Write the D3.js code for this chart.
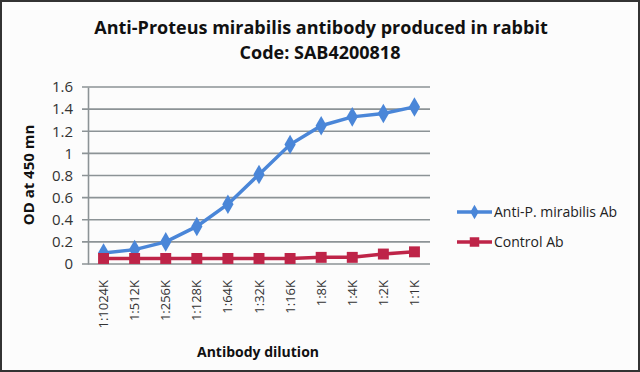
<!DOCTYPE html>
<html>
<head>
<meta charset="utf-8">
<script src="https://cdn.jsdelivr.net/npm/d3@7"></script>
<style>
  html, body { margin: 0; padding: 0; background: #fff; }
  svg { display: block; }
  text { font-family: "Open Sans", "DejaVu Sans", sans-serif; }
</style>
</head>
<body>
<svg id="chart" width="640" height="372"></svg>
<script>
const dilutions = ['1:1024K', '1:512K', '1:256K', '1:128K', '1:64K', '1:32K', '1:16K', '1:8K', '1:4K', '1:2K', '1:1K'];
const antiValues = [0.10, 0.13, 0.20, 0.34, 0.54, 0.81, 1.08, 1.25, 1.33, 1.36, 1.42];
const controlValues = [0.05, 0.05, 0.05, 0.05, 0.05, 0.05, 0.05, 0.06, 0.06, 0.09, 0.11];
const yTicks = [0, 0.2, 0.4, 0.6, 0.8, 1, 1.2, 1.4, 1.6];

const seriesList = [
    { name: 'Anti-P. mirabilis Ab', values: antiValues, color: '#4a86d8', symbol: d3.symbolDiamond },
    { name: 'Control Ab', values: controlValues, color: '#be2448', symbol: d3.symbolSquare }
];

const svg = d3.select('#chart');
const width = +svg.attr('width');
const height = +svg.attr('height');

// background + frame
svg.append('rect')
    .attr('x', 1).attr('y', 1)
    .attr('width', width - 2).attr('height', height - 2)
    .attr('fill', '#fcfcfc')
    .attr('stroke', '#333').attr('stroke-width', 2);

const margin = { top: 87, right: 210, bottom: 108, left: 88 };
const innerW = width - margin.left - margin.right;
const innerH = height - margin.top - margin.bottom;

const g = svg.append('g').attr('transform', `translate(${margin.left},${margin.top})`);

const xScale = d3.scaleBand().domain(dilutions).range([0, innerW]);
const yScale = d3.scaleLinear().domain([0, 1.6]).range([innerH, 0]);

// gridlines
g.append('g')
    .selectAll('line')
    .data(yTicks)
    .join('line')
    .attr('x1', -6).attr('x2', innerW)
    .attr('y1', d => yScale(d)).attr('y2', d => yScale(d))
    .attr('stroke', '#8c9396').attr('stroke-width', 1.6);

// y axis
const yAxis = g.append('g')
    .call(d3.axisLeft(yScale).tickValues(yTicks).tickSize(0).tickPadding(15).tickFormat(d3.format('~g')));
yAxis.select('.domain').attr('stroke', '#8c9396').attr('stroke-width', 1.6);
yAxis.selectAll('text')
    .attr('font-size', 15)
    .attr('fill', '#333');

// x axis
const xAxis = g.append('g')
    .attr('transform', `translate(0,${innerH})`)
    .call(d3.axisBottom(xScale).tickSize(0).tickPadding(0));
xAxis.select('.domain').remove();
xAxis.selectAll('text')
    .attr('font-size', 13)
    .attr('fill', '#333')
    .attr('transform', 'rotate(-90)')
    .attr('text-anchor', 'end')
    .attr('dy', '0.35em')
    .attr('x', -16)
    .attr('y', 0);

const line = d3.line()
    .x((d, i) => xScale(dilutions[i]) + xScale.bandwidth() / 2)
    .y(d => yScale(d));

seriesList.forEach(s => {
    g.append('path')
        .datum(s.values)
        .attr('fill', 'none')
        .attr('stroke', s.color)
        .attr('stroke-width', 3.5)
        .attr('d', line);
    g.append('g')
        .selectAll('path')
        .data(s.values)
        .join('path')
        .attr('transform', (d, i) => `translate(${xScale(dilutions[i]) + xScale.bandwidth() / 2},${yScale(d)})`)
        .attr('d', d3.symbol().type(s.symbol).size(s.symbol === d3.symbolSquare ? 120 : 110))
        .attr('fill', s.color);
});

// titles
svg.append('text')
    .attr('x', 321).attr('y', 34)
    .attr('text-anchor', 'middle')
    .attr('font-size', 18).attr('font-weight', 'bold')
    .attr('fill', '#111')
    .text('Anti-Proteus mirabilis antibody produced in rabbit');
svg.append('text')
    .attr('x', 320).attr('y', 59)
    .attr('text-anchor', 'middle')
    .attr('font-size', 18).attr('font-weight', 'bold')
    .attr('fill', '#111')
    .text('Code: SAB4200818');

svg.append('text')
    .attr('transform', 'translate(34,175) rotate(-90)')
    .attr('text-anchor', 'middle')
    .attr('font-size', 15).attr('font-weight', 'bold')
    .attr('fill', '#111')
    .text('OD at 450 mn');

svg.append('text')
    .attr('x', 258).attr('y', 357)
    .attr('text-anchor', 'middle')
    .attr('font-size', 14).attr('font-weight', 'bold')
    .attr('fill', '#111')
    .text('Antibody dilution');

// legend
const legend = svg.append('g').attr('transform', 'translate(457,212)');
seriesList.forEach((s, i) => {
    const row = legend.append('g').attr('transform', `translate(0,${i * 30})`);
    row.append('line')
        .attr('x1', 0).attr('x2', 35)
        .attr('stroke', s.color).attr('stroke-width', 3.5);
    row.append('path')
        .attr('transform', 'translate(17.5,0)')
        .attr('d', d3.symbol().type(s.symbol).size(s.symbol === d3.symbolSquare ? 90 : 60))
        .attr('fill', s.color);
    row.append('text')
        .attr('x', 37).attr('y', 0)
        .attr('dy', '0.35em')
        .attr('font-size', 14)
        .attr('fill', '#222')
        .text(s.name);
});
</script>
</body>
</html>
